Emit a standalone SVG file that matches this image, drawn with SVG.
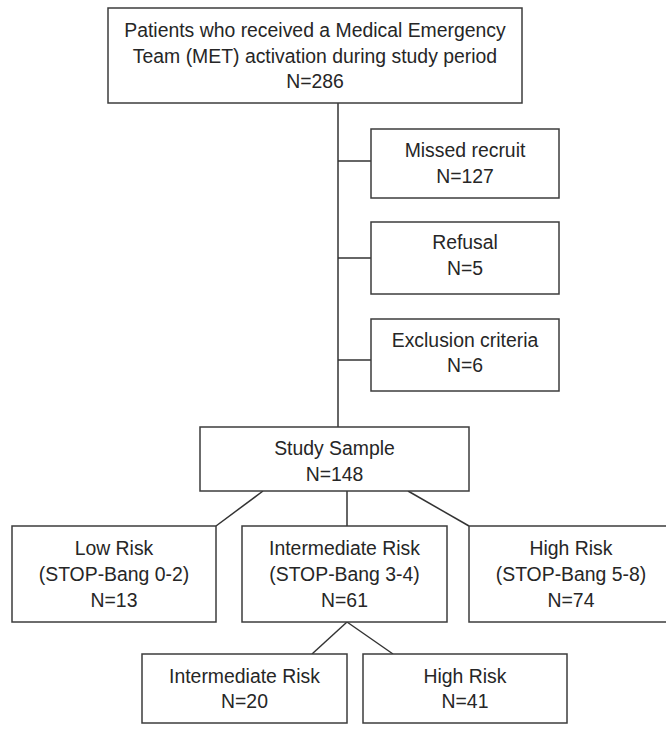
<svg xmlns="http://www.w3.org/2000/svg" width="666" height="743" viewBox="0 0 666 743">
<style>
.box{fill:#fff;stroke:#3c3c3c;stroke-width:1.5}
.c{fill:none;stroke:#333;stroke-width:1.5}
text{font-family:"Liberation Sans",Arial,sans-serif;font-size:19.4px;fill:#262626;text-anchor:middle}
</style>
<rect width="666" height="743" fill="#fff"/>
<g id="connectors">
<line class="c" x1="338" y1="103" x2="338" y2="427"/>
<line class="c" x1="338" y1="161" x2="371" y2="161"/>
<line class="c" x1="338" y1="258" x2="371" y2="258"/>
<line class="c" x1="338" y1="360" x2="371" y2="360"/>
<line class="c" x1="263" y1="491" x2="216" y2="526"/>
<line class="c" x1="347" y1="491" x2="347" y2="526"/>
<line class="c" x1="408" y1="491" x2="469" y2="526"/>
<line class="c" x1="347" y1="622" x2="312" y2="654"/>
<line class="c" x1="347" y1="622" x2="393" y2="654"/>
</g>
<g id="n-top">
<rect class="box" x="108" y="8" width="414" height="95"/>
<text x="315" y="37">Patients who received a Medical Emergency</text>
<text x="315" y="63">Team (MET) activation during study period</text>
<text x="315" y="88">N=286</text>
</g>
<g id="n-missed">
<rect class="box" x="371" y="129" width="188" height="69"/>
<text x="465" y="157">Missed recruit</text>
<text x="465" y="183">N=127</text>
</g>
<g id="n-refusal">
<rect class="box" x="371" y="222" width="188" height="72"/>
<text x="465" y="249">Refusal</text>
<text x="465" y="275">N=5</text>
</g>
<g id="n-exclusion">
<rect class="box" x="371" y="319" width="188" height="72"/>
<text x="465" y="347">Exclusion criteria</text>
<text x="465" y="372">N=6</text>
</g>
<g id="n-study">
<rect class="box" x="200" y="427" width="269" height="64"/>
<text x="334.5" y="455">Study Sample</text>
<text x="334.5" y="481">N=148</text>
</g>
<g id="n-low">
<rect class="box" x="12" y="526" width="204" height="96"/>
<text x="114" y="555">Low Risk</text>
<text x="114" y="581">(STOP-Bang 0-2)</text>
<text x="114" y="607">N=13</text>
</g>
<g id="n-inter">
<rect class="box" x="242" y="526" width="205" height="96"/>
<text x="344.5" y="555">Intermediate Risk</text>
<text x="344.5" y="581">(STOP-Bang 3-4)</text>
<text x="344.5" y="607">N=61</text>
</g>
<g id="n-high">
<rect class="box" x="469" y="526" width="204" height="96"/>
<text x="571" y="555">High Risk</text>
<text x="571" y="581">(STOP-Bang 5-8)</text>
<text x="571" y="607">N=74</text>
</g>
<g id="n-sub-inter">
<rect class="box" x="142" y="654" width="205" height="69"/>
<text x="244.5" y="683">Intermediate Risk</text>
<text x="244.5" y="708">N=20</text>
</g>
<g id="n-sub-high">
<rect class="box" x="363" y="654" width="204" height="69"/>
<text x="465" y="683">High Risk</text>
<text x="465" y="708">N=41</text>
</g>
</svg>
